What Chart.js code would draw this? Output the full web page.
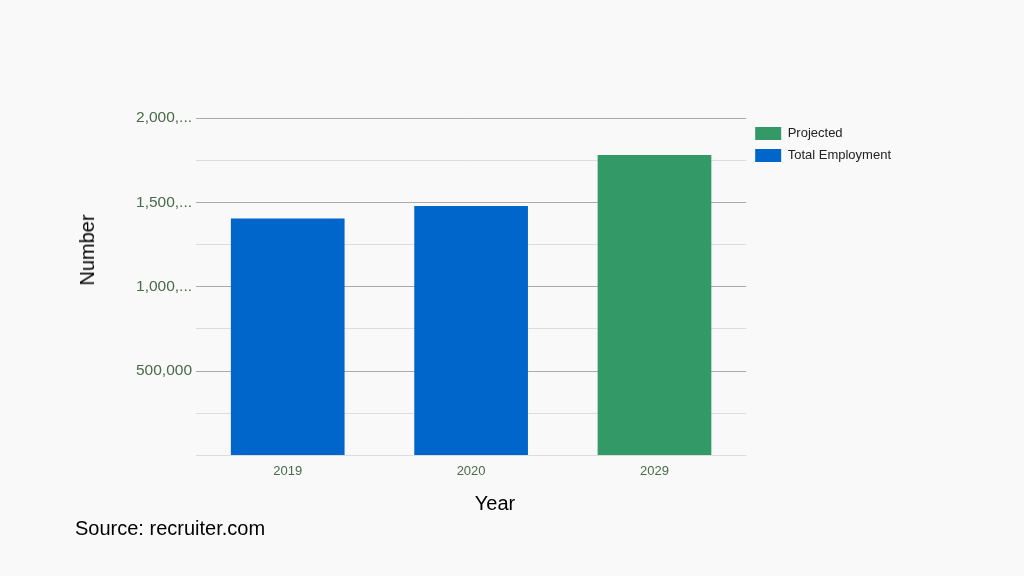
<!DOCTYPE html>
<html>
<head>
<meta charset="utf-8">
<script src="https://cdn.jsdelivr.net/npm/chart.js@4"></script>
<style>
  body { margin: 0; background: #f9f9f9; font-family: Arial, "Liberation Sans", sans-serif; }
  #wrap { position: relative; width: 1024px; height: 576px; }
  .lbl { position: absolute; font-size: 20px; color: #000; white-space: nowrap; line-height: 24px; }
  #source { left: 75px; top: 516px; }
  #xTitle { left: 495px; top: 491px; transform: translateX(-50%); }
  #yTitle { left: 87px; top: 250px; transform: translate(-50%, -50%) rotate(-90deg); }
</style>
</head>
<body>
<div id="wrap">
  <canvas id="myChart" width="1024" height="576"></canvas>
  <div class="lbl" id="xTitle">Year</div>
  <div class="lbl" id="yTitle">Number</div>
  <div class="lbl" id="source">Source: recruiter.com</div>
</div>
<script>
const ctx = document.getElementById('myChart');

const years = ['2019', '2020', '2029'];
const projected = [null, null, 1780000];
const totalEmployment = [1405000, 1478000, null];

function tickLabel(v) {
    if (v % 500000 !== 0 || v === 0) return '';
    let s = v.toLocaleString('en-US');
    if (s.length > 7) s = s.slice(0, 6) + '...';
    return s;
}

new Chart(ctx, {
    type: 'bar',
    data: {
        labels: years,
        datasets: [{
            label: 'Projected',
            data: projected,
            backgroundColor: '#339966',
            categoryPercentage: 0.62,
            barPercentage: 1
        }, {
            label: 'Total Employment',
            data: totalEmployment,
            backgroundColor: '#0066cc',
            categoryPercentage: 0.62,
            barPercentage: 1
        }]
    },
    options: {
        responsive: false,
        animation: false,
        layout: {
            padding: { left: 132, top: 118, right: 123, bottom: 97 }
        },
        plugins: {
            tooltip: { enabled: false },
            legend: {
                position: 'right',
                align: 'start',
                labels: {
                    boxWidth: 26,
                    boxHeight: 13,
                    padding: 9,
                    color: '#222',
                    font: { family: 'Arial', size: 13 }
                }
            }
        },
        scales: {
            x: {
                stacked: true,
                grid: { display: false },
                border: { display: false },
                ticks: { color: '#4a6a4a', font: { family: 'Arial', size: 13 }, padding: 0 }
            },
            y: {
                stacked: true,
                min: 0,
                max: 2000000,
                border: { display: false },
                grid: {
                    drawTicks: false,
                    color: c => (c.tick && c.tick.value % 500000 === 0 && c.tick.value !== 0) ? '#aaaaaa' : '#dddddd'
                },
                ticks: {
                    stepSize: 250000,
                    color: '#4a6a4a',
                    font: { family: 'Arial', size: 15.5 },
                    padding: 4,
                    callback: v => tickLabel(v)
                }
            }
        }
    }
});
</script>
</body>
</html>
